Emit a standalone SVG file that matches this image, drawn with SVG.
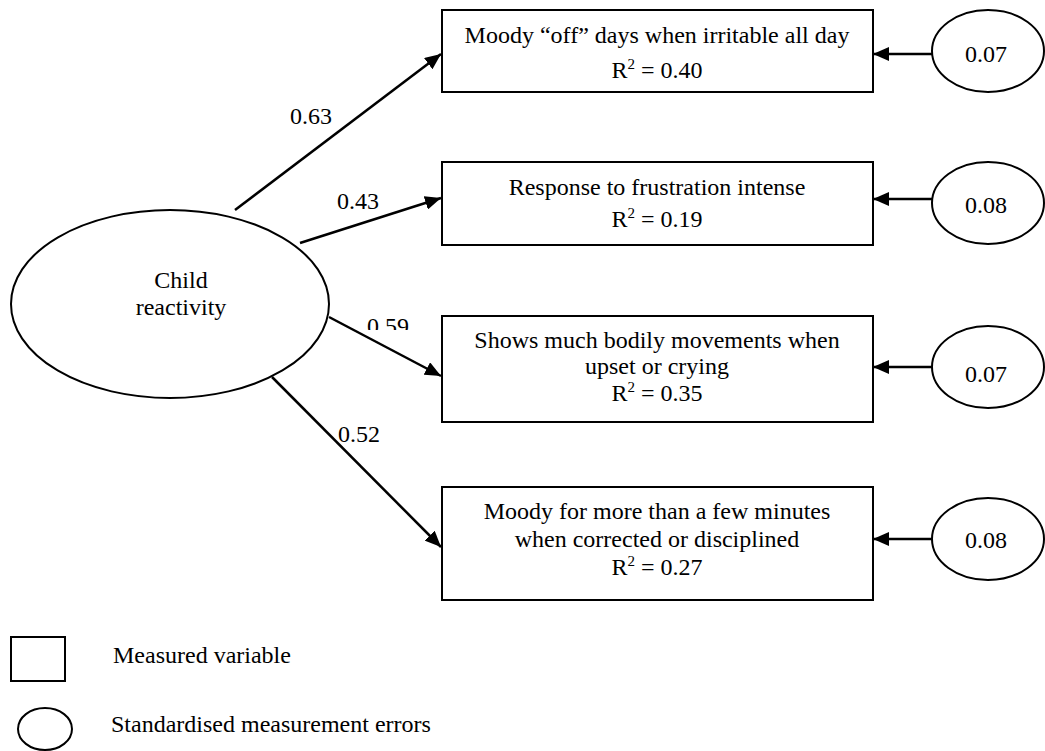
<svg xmlns="http://www.w3.org/2000/svg" width="1045" height="751" viewBox="0 0 1045 751">
  <style>
    text { font-family: "Liberation Serif", "Times New Roman", serif; font-size: 24px; fill: #000; }
    .mid { text-anchor: middle; }
    .box { fill: #fff; stroke: #000; stroke-width: 2; }
    .oval { fill: #fff; stroke: #000; stroke-width: 2; }
    .edge { stroke: #000; stroke-width: 2.5; fill: none; marker-end: url(#head); }
  </style>
  <defs>
    <marker id="head" markerUnits="userSpaceOnUse" markerWidth="18" markerHeight="14" refX="16" refY="7" orient="auto">
      <path d="M0,0 L16,7 L0,14 Z" fill="#000"/>
    </marker>
    <clipPath id="cut059">
      <rect x="350" y="300" width="80" height="30"/>
    </clipPath>
  </defs>

  <rect width="1045" height="751" fill="#fff"/>

  <!-- connectors: loadings and error paths -->
  <g id="connectors">
    <line class="edge" x1="235" y1="210" x2="441" y2="54"/>
    <line class="edge" x1="300" y1="243" x2="441" y2="198"/>
    <line class="edge" x1="329" y1="317" x2="441" y2="376"/>
    <line class="edge" x1="272" y1="377" x2="441" y2="547"/>
    <line class="edge" x1="932" y1="54" x2="873" y2="54"/>
    <line class="edge" x1="932" y1="199" x2="873" y2="199"/>
    <line class="edge" x1="932" y1="367" x2="873" y2="367"/>
    <line class="edge" x1="932" y1="539" x2="873" y2="539"/>
  </g>

  <!-- loading labels -->
  <g id="loadings">
    <text x="290" y="124">0.63</text>
    <text x="337" y="209">0.43</text>
    <text x="367" y="334" clip-path="url(#cut059)">0.59</text>
    <text x="338" y="442">0.52</text>
  </g>

  <!-- latent factor -->
  <g id="child-reactivity">
    <ellipse class="oval" cx="170" cy="304" rx="159" ry="94"/>
    <text class="mid" x="181" y="288">Child</text>
    <text class="mid" x="181" y="315">reactivity</text>
  </g>

  <!-- measured variables -->
  <g id="item-moody-off-days">
    <rect class="box" x="442" y="10" width="431" height="82"/>
    <text class="mid" x="657" y="43">Moody “off” days when irritable all day</text>
    <text class="mid" x="657" y="78">R<tspan font-size="15" dy="-9">2</tspan><tspan dy="9"> = 0.40</tspan></text>
  </g>
  <g id="item-frustration">
    <rect class="box" x="442" y="162" width="431" height="83"/>
    <text class="mid" x="657" y="195">Response to frustration intense</text>
    <text class="mid" x="657" y="227">R<tspan font-size="15" dy="-9">2</tspan><tspan dy="9"> = 0.19</tspan></text>
  </g>
  <g id="item-bodily-movements">
    <rect class="box" x="442" y="316" width="431" height="106"/>
    <text class="mid" x="657" y="348">Shows much bodily movements when</text>
    <text class="mid" x="657" y="374">upset or crying</text>
    <text class="mid" x="657" y="401">R<tspan font-size="15" dy="-9">2</tspan><tspan dy="9"> = 0.35</tspan></text>
  </g>
  <g id="item-moody-corrected">
    <rect class="box" x="442" y="487" width="431" height="113"/>
    <text class="mid" x="657" y="519">Moody for more than a few minutes</text>
    <text class="mid" x="657" y="547">when corrected or disciplined</text>
    <text class="mid" x="657" y="575">R<tspan font-size="15" dy="-9">2</tspan><tspan dy="9"> = 0.27</tspan></text>
  </g>

  <!-- measurement errors -->
  <g id="error-1">
    <ellipse class="oval" cx="988" cy="51" rx="56" ry="41"/>
    <text class="mid" x="986" y="62">0.07</text>
  </g>
  <g id="error-2">
    <ellipse class="oval" cx="988" cy="203" rx="56" ry="41"/>
    <text class="mid" x="986" y="213">0.08</text>
  </g>
  <g id="error-3">
    <ellipse class="oval" cx="988" cy="367" rx="56" ry="41"/>
    <text class="mid" x="986" y="382">0.07</text>
  </g>
  <g id="error-4">
    <ellipse class="oval" cx="988" cy="539" rx="56" ry="41"/>
    <text class="mid" x="986" y="548">0.08</text>
  </g>

  <!-- legend -->
  <g id="legend-measured">
    <rect class="box" x="11" y="637" width="54" height="44"/>
    <text x="113" y="663">Measured variable</text>
  </g>
  <g id="legend-errors">
    <ellipse class="oval" cx="45" cy="729" rx="27" ry="21"/>
    <text x="111" y="732">Standardised measurement errors</text>
  </g>
</svg>
